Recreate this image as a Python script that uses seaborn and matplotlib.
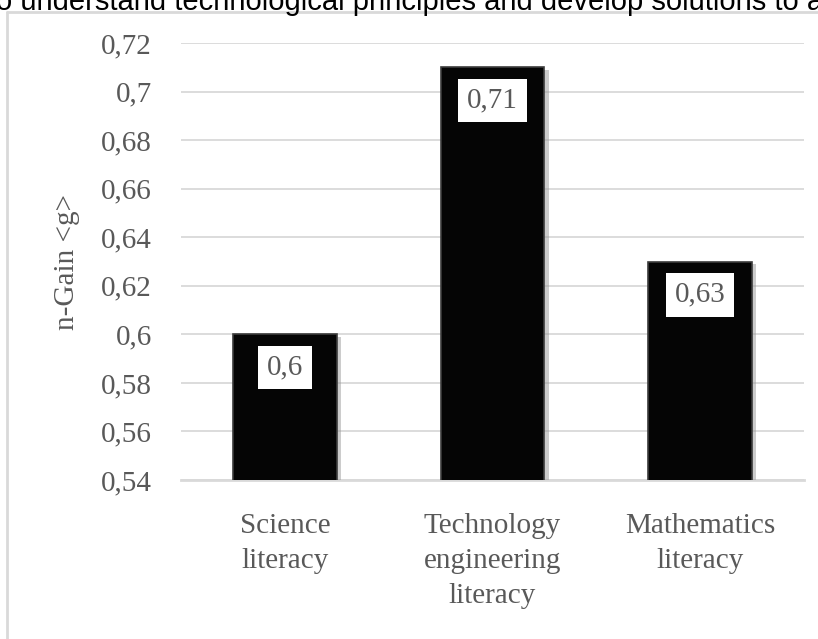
import matplotlib
matplotlib.use("Agg")
import matplotlib.pyplot as plt
import matplotlib.patheffects as pe
from matplotlib.lines import Line2D
import pandas as pd
import seaborn as sns

# data
categories = ["Science\nliteracy", "Technology\nengineering\nliteracy", "Mathematics\nliteracy"]
ngain = [0.60, 0.71, 0.63]
value_labels = ["0,6", "0,71", "0,63"]
yticks = [0.54, 0.56, 0.58, 0.60, 0.62, 0.64, 0.66, 0.68, 0.70, 0.72]

df = pd.DataFrame({"literacy": categories, "ngain": ngain})

sns.set_theme(style="white")
plt.rcParams['font.family'] = ['Liberation Serif', 'DejaVu Serif']

grey_text = '#595959'
grid_col = '#d9d9d9'
fs = 21

fig = plt.figure(figsize=(8.18, 6.39), dpi=100)
ax = fig.add_axes([181/818, 1 - 480/639, 623/818, 437/639])

sns.barplot(data=df, x="literacy", y="ngain", color="#050505", width=0.5,
            saturation=1, edgecolor="#3c3c3c", linewidth=1.2, ax=ax, zorder=3)

# soft shadow like the office-style bevel
for p in ax.patches:
    p.set_path_effects([pe.SimplePatchShadow(offset=(3, -2), shadow_rgbFace='#9a9a9a', alpha=0.5),
                        pe.Normal()])

ax.set_ylim(0.54, 0.72)
ax.set_yticks(yticks)
ax.set_yticklabels([('%g' % round(t, 2)).replace('.', ',') for t in yticks])
ax.yaxis.grid(True, color=grid_col, linewidth=1.3, zorder=0)
ax.set_axisbelow(True)
for s in ['top', 'right', 'left']:
    ax.spines[s].set_visible(False)
ax.spines['bottom'].set_color(grid_col)
ax.spines['bottom'].set_linewidth(2)

ax.tick_params(axis='both', length=0, labelsize=fs, colors=grey_text)
ax.tick_params(axis='y', pad=21)
ax.tick_params(axis='x', pad=24)
for lbl in ax.get_xticklabels():
    lbl.set_linespacing(1.45)

ax.set_xlabel("")
ax.set_ylabel("n-Gain <g>", fontsize=fs, color=grey_text, labelpad=15)

for i, (v, txt) in enumerate(zip(ngain, value_labels)):
    ax.annotate(txt, (i, v), xytext=(0, -24), textcoords='offset points',
                ha='center', va='center', fontsize=fs, color=grey_text, zorder=5,
                bbox=dict(boxstyle='square,pad=0.3', fc='white', ec='none'))

# frame of the chart box in the page
fig.add_artist(Line2D([7/818, 7/818], [1 - 12/639, 0], color=grid_col, lw=2))
fig.add_artist(Line2D([7/818, 1], [1 - 12/639, 1 - 12/639], color=grid_col, lw=2))

# cut-off line of the surrounding document text
fig.text(-4/818, 1 - 10/639, "o understand technological principles and develop solutions to a",
         fontsize=21, color='black', family=['Liberation Sans', 'DejaVu Sans'],
         ha='left', va='baseline')

fig.savefig("out.png", dpi=100)
